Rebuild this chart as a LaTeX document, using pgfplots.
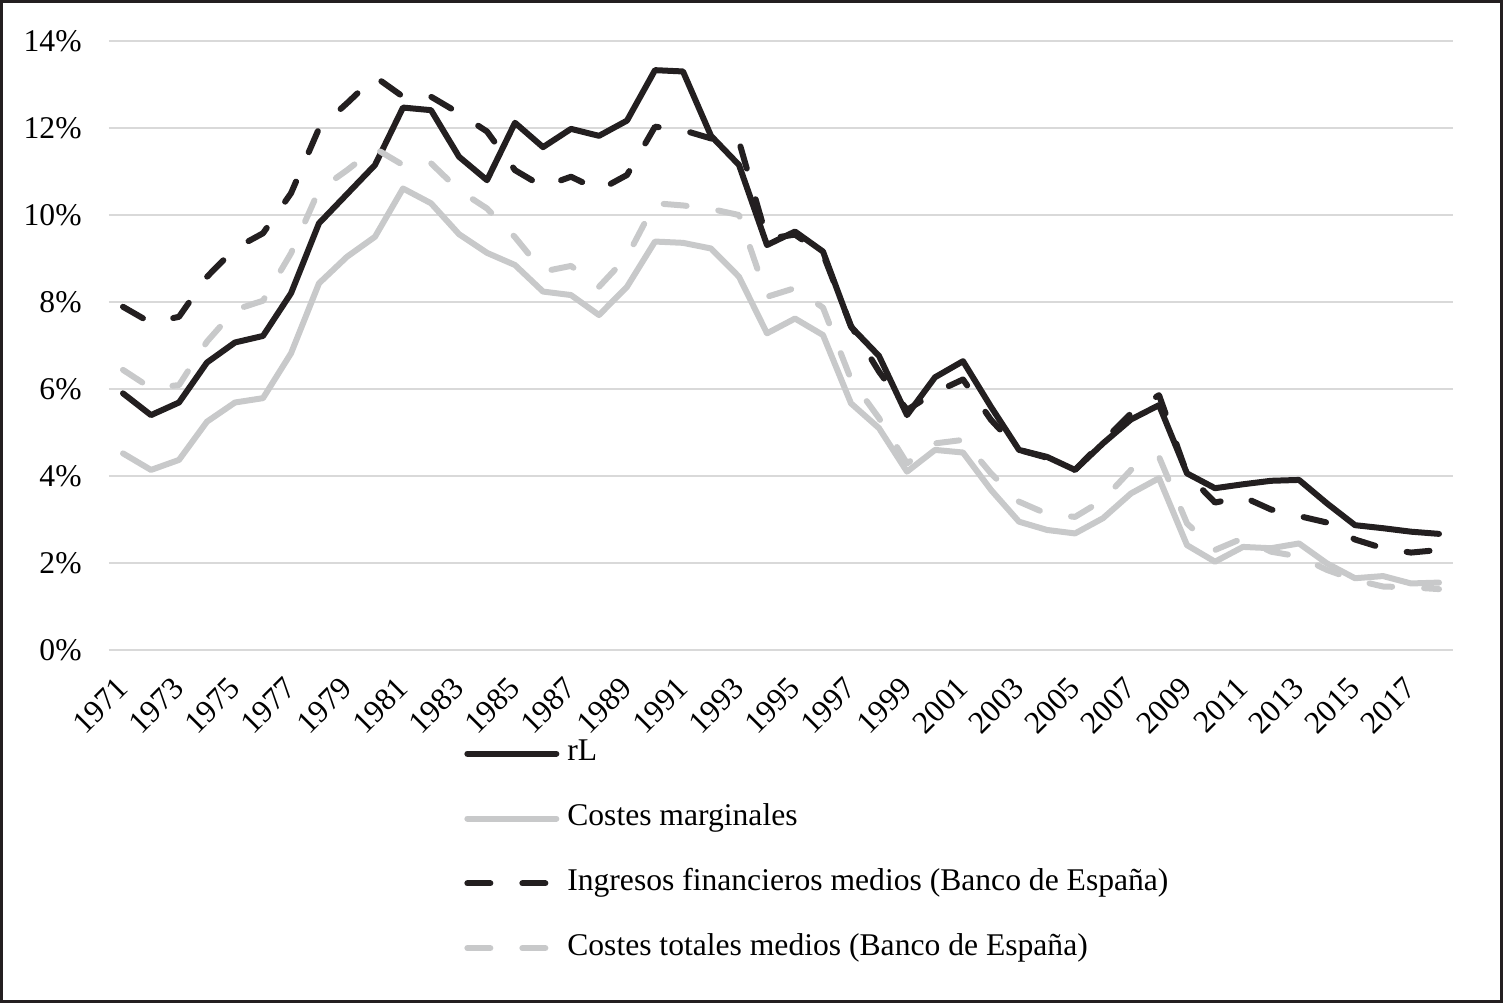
\documentclass[border=0pt]{standalone}
\usepackage{pgfplots}
\pgfplotsset{compat=1.18}
\usepackage{pgfplotstable}
\usepackage{fontspec}
\setmainfont{Liberation Serif}

\definecolor{negro}{HTML}{231F20}
\definecolor{gris}{HTML}{C8C9CA}
\definecolor{rejilla}{HTML}{D9D9D9}

% year, rL, costes marginales, ingresos fin. medios, costes totales medios (%)
\pgfplotstableread{
year rL    cm    ifm   ctm
1971 5.90  4.52  7.89  6.44
1972 5.40  4.14  7.52  6.02
1973 5.69  4.37  7.66  6.09
1974 6.61  5.25  8.58  7.09
1975 7.07  5.69  9.23  7.82
1976 7.22  5.79  9.58  8.03
1977 8.20  6.82  10.50 9.12
1978 9.81  8.43  11.99 10.57
1979 10.48 9.04  12.57 11.03
1980 11.15 9.50  13.18 11.53
1981 12.47 10.61 12.72 11.15
1982 12.41 10.27 12.72 11.19
1983 11.34 9.56  12.34 10.57
1984 10.80 9.13  11.92 10.15
1985 12.12 8.85  11.03 9.49
1986 11.56 8.24  10.65 8.70
1987 11.98 8.16  10.88 8.83
1988 11.82 7.70  10.57 8.35
1989 12.17 8.35  10.92 9.04
1990 13.33 9.39  12.03 10.27
1991 13.30 9.36  11.95 10.22
1992 11.82 9.23  11.76 10.14
1993 11.15 8.58  11.69 10.00
1994 9.31  7.28  9.45  8.12
1995 9.62  7.62  9.55  8.32
1996 9.16  7.24  9.10  7.87
1997 7.43  5.67  7.45  6.22
1998 6.76  5.10  6.40  5.33
1999 5.40  4.10  5.52  4.29
2000 6.27  4.60  5.92  4.75
2001 6.64  4.54  6.22  4.83
2002 5.59  3.68  5.29  4.06
2003 4.60  2.95  4.60  3.41
2004 4.44  2.76  4.42  3.13
2005 4.14  2.68  4.14  3.06
2006 4.75  3.03  4.80  3.45
2007 5.30  3.60  5.44  4.14
2008 5.63  3.95  5.86  4.44
2009 4.06  2.41  4.05  2.91
2010 3.72  2.03  3.39  2.30
2011 3.81  2.37  3.52  2.57
2012 3.89  2.34  3.23  2.26
2013 3.91  2.45  3.08  2.15
2014 3.37  1.99  2.93  1.84
2015 2.87  1.65  2.54  1.61
2016 2.80  1.70  2.34  1.46
2017 2.72  1.53  2.24  1.44
2018 2.67  1.55  2.30  1.40
}\datos

\begin{document}
\begin{tikzpicture}
    \useasboundingbox (-54.5pt,-176.5pt) rectangle (697pt,325pt);
    \draw[negro, line width=1.5pt] (-53.75pt,-175.75pt) rectangle (696.25pt,324.25pt);
    \begin{axis}[
        at={(0pt,0pt)}, anchor=south west,
        scale only axis,
        width=672pt, height=304.5pt,
        xmin=1970.5, xmax=2018.5,
        ymin=0, ymax=14,
        axis line style={draw=none},
        major tick length=0pt,
        xtick={1971,1973,...,2017},
        ytick={0,2,...,14},
        ymajorgrids,
        grid style={rejilla, line width=1.3pt},
        font=\fontsize{15.8}{18}\selectfont,
        /pgf/number format/assume math mode=true,
        /pgf/number format/1000 sep={},
        xticklabel style={anchor=east, rotate=45, inner sep=0pt},
        xticklabel shift=16.5pt,
        yticklabel={\pgfmathprintnumber{\tick}\%},
        yticklabel style={anchor=east, inner sep=0pt},
        yticklabel shift=13.5pt,
        legend cell align=left,
        legend image code/.code={\draw[#1] (0pt,0pt) -- (44.5pt,0pt);},
        legend style={draw=none, fill=none, at={(0.2641,-0.145)}, anchor=north west,
            inner sep=0pt, row sep=17.4pt, column sep=4pt,
            nodes={inner sep=0pt, text height=11pt, text depth=4pt},
            font=\fontsize{15.8}{18}\selectfont},
        every axis plot/.append style={line width=3pt, line join=round},
    ]
        \addplot[negro, line cap=round] table[x=year, y=rL] {\datos};
        \addlegendentry{rL}
        \addplot[gris, line cap=round] table[x=year, y=cm] {\datos};
        \addlegendentry{Costes marginales}
        \addplot[negro, line cap=round, dash pattern=on 11.5pt off 16pt] table[x=year, y=ifm] {\datos};
        \addlegendentry{Ingresos financieros medios (Banco de España)}
        \addplot[gris, line cap=round, dash pattern=on 11.5pt off 16pt] table[x=year, y=ctm] {\datos};
        \addlegendentry{Costes totales medios (Banco de España)}
    \end{axis}
\end{tikzpicture}
\end{document}
